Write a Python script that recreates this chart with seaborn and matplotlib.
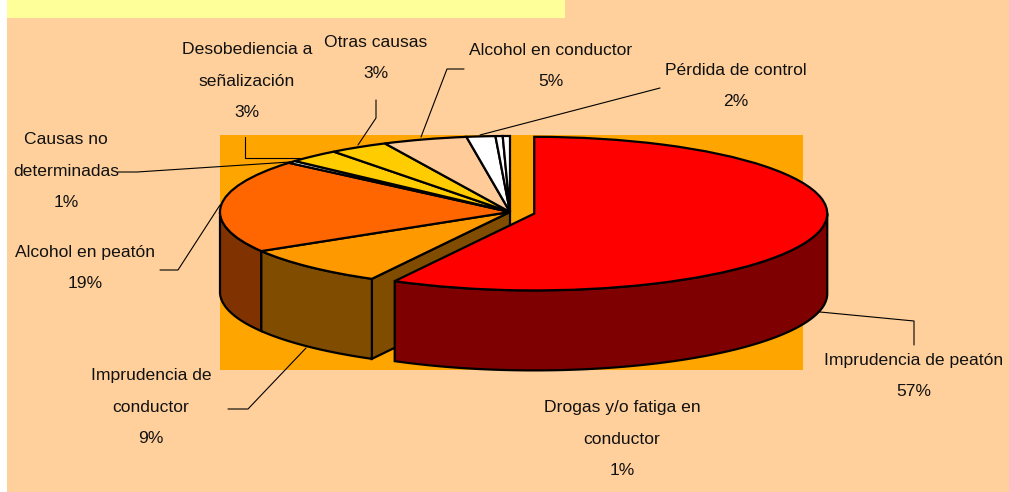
import numpy as np
import matplotlib
matplotlib.use("Agg")
import matplotlib.pyplot as plt
import seaborn as sns

# slice sizes, clockwise from 12 o'clock
slice_shares = [57.9, 8.5, 19.8, 0.5, 2.9, 3.3, 4.7, 1.6, 0.4, 0.4]
top_colors = ["#FF0000", "#FF9900", "#FF6600", "#FFFFFF", "#FFCC00",
              "#FFCC00", "#FFCC99", "#FFFFFF", "#FFFFFF", "#FFFFFF"]
wall_colors = ["#7F0000", "#804D00", "#803300"]

labels = ["Imprudencia de peatón\n57%",
          "Imprudencia de\nconductor\n9%",
          "Alcohol en peatón\n19%",
          "Causas no\ndeterminadas\n1%",
          "Desobediencia a\nseñalización\n3%",
          "Otras causas\n3%",
          "Alcohol en conductor\n5%",
          "Pérdida de control\n2%",
          "Drogas y/o fatiga en\nconductor\n1%"]
label_x = [914, 151, 85, 66, 247, 376, 551, 736, 622]
label_y = [376, 407, 268, 171, 81, 58, 66, 86, 439]

leader_x = [[820, 914, 914], [228, 248, 306], [220, 178, 160], [118, 137, 290],
            [245, 245, 300], [376, 376, 358], [464, 447, 421], [660, 480]]
leader_y = [[312, 321, 345], [409, 409, 348], [205, 270, 270], [172, 172, 162],
            [137, 158, 158], [100, 118, 145], [69, 69, 137], [88, 135]]

W, H = 1009, 492
CX, CY = 510, 212
RX, RY = 290, 76
DEPTH = 80 / RY
EXPLODE = 25 / RX
RED_R = 293 / 290
LW = 1.6

sns.set_theme(style="white")
plt.rcParams["font.family"] = ["Liberation Sans", "DejaVu Sans"]

fig = plt.figure(figsize=(W / 100, H / 100), dpi=100, facecolor="white")

# pixel axes for the page background, leader lines and labels
ax = fig.add_axes([0, 0, 1, 1])
ax.set_xlim(0, W)
ax.set_ylim(H, 0)
ax.axis("off")
ax.fill_between([7, W], 0, H, color="#FFD09B", lw=0)
ax.fill_between([7, 565], 0, 18, color="#FFFF99", lw=0)
ax.fill_between([220, 803], 135, 370, color="#FFA500", lw=0)

for xs, ys in zip(leader_x, leader_y):
    sns.lineplot(x=xs, y=ys, ax=ax, color="black", lw=0.8, sort=False, estimator=None)
for txt, x, y in zip(labels, label_x, label_y):
    ax.text(x, y, txt, ha="center", va="center", fontsize=12.6, linespacing=2.4, color="#111111")

# squashed pie axes: radius 1 is RX wide and RY high
ax_pie = fig.add_axes([0, 0, 1, 1], zorder=2)
ax_pie.patch.set_alpha(0)

edges = 90 - np.cumsum([0] + slice_shares) * 3.6
mids = np.radians((edges[:-1] + edges[1:]) / 2)


def wall(start, stop, r=1.0, dx=0.0, dy=0.0, color="black", z=1):
    t = np.radians(np.linspace(start, stop, 120))
    xs = r * np.cos(t) + dx
    ys = r * np.sin(t) + dy
    ax_pie.fill(np.r_[xs, xs[::-1]], np.r_[ys, ys[::-1] - DEPTH], color=color,
                ec="black", lw=LW, zorder=z)


# cut face and outer walls of the slices behind the red one
t1 = np.radians(edges[1])
ax_pie.fill([0, np.cos(t1), np.cos(t1), 0], [0, np.sin(t1), np.sin(t1) - DEPTH, -DEPTH],
            color=wall_colors[1], ec="black", lw=LW, zorder=1)
wall(edges[2], -180, color=wall_colors[2])
wall(edges[1], edges[2], color=wall_colors[1])

wedges, _ = ax_pie.pie(slice_shares, colors=sns.color_palette(top_colors, len(top_colors)),
                       startangle=90, counterclock=False, radius=1,
                       explode=[EXPLODE] + [0] * 9,
                       wedgeprops={"edgecolor": "black", "linewidth": LW, "zorder": 2})

# red slice sits in front of everything else
ex = EXPLODE * np.cos(mids[0])
ey = EXPLODE * np.sin(mids[0])
wall(edges[1], 0, r=RED_R, dx=ex, dy=ey, color=wall_colors[0], z=3)
wedges[0].set_radius(RED_R)
wedges[0].set_zorder(4)

ax_pie.set_aspect("auto")
ax_pie.set_xlim(-CX / RX, (W - CX) / RX)
ax_pie.set_ylim((CY - H) / RY, CY / RY)
ax_pie.axis("off")

fig.savefig("out.png", dpi=100, facecolor=fig.get_facecolor())
